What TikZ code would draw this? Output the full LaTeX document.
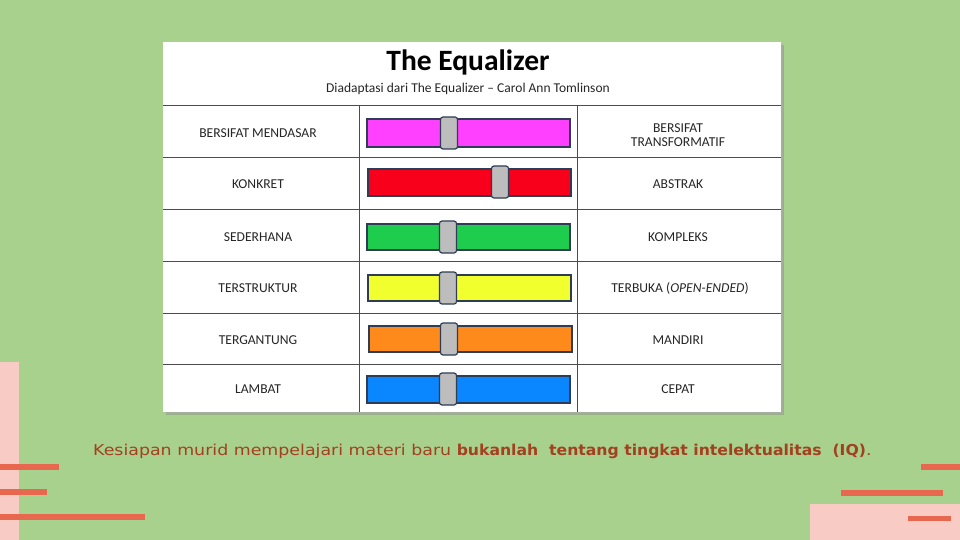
\documentclass[tikz,border=0pt]{standalone}
\usepackage{fontspec}
\usepackage{graphicx}
\setmainfont{Carlito}
\newfontfamily\capfont{DejaVu Sans}
\newfontfamily\capbold{DejaVu Sans Condensed}
\definecolor{bggreen}{HTML}{A9D18E}
\definecolor{pinkish}{HTML}{F8CBC4}
\definecolor{coral}{HTML}{E8674F}
\definecolor{captxt}{HTML}{A3401F}
\definecolor{rim}{HTML}{2E3D55}
\definecolor{knob}{HTML}{BDBDBD}
\definecolor{cMag}{HTML}{FF40FF}
\definecolor{cRed}{HTML}{F8001C}
\definecolor{cGrn}{HTML}{1ECC4E}
\definecolor{cYel}{HTML}{F2FF2E}
\definecolor{cOrg}{HTML}{FF8A1C}
\definecolor{cBlu}{HTML}{0A86FF}
\tikzset{
  lbl/.style={font=\fontsize{13.6}{14.5}\selectfont, align=center, text=black!85},
  bar/.style={draw=rim, line width=1.2pt},
  knobbox/.style={draw=rim, line width=1.2pt, fill=knob, rounded corners=2.5pt, minimum width=17pt, minimum height=32pt, inner sep=0pt},
  grid/.style={draw=black!70, line width=0.6pt},
  deco/.style={fill=coral, draw=none},
}
\begin{document}
\begin{tikzpicture}[x=1pt,y=-1pt]
\useasboundingbox (0,0) rectangle (960,540);
\fill[bggreen] (0,0) rectangle (960,540);
% decorations
\fill[pinkish] (0,362) rectangle (19,540);
\fill[deco] (0,464) rectangle (59,470);
\fill[deco] (0,489) rectangle (47,495);
\fill[deco] (0,514) rectangle (145,520);
\fill[pinkish] (810,504) rectangle (960,540);
\fill[deco] (921,464) rectangle (960,470);
\fill[deco] (841,490) rectangle (943,496);
\fill[deco] (908,516) rectangle (951,521);
% panel shadow
\fill[black!45, opacity=0.5] (166,45) rectangle (784,415);
\fill[black!30, opacity=0.4] (165,44) rectangle (783,414);
\node[draw=none, fill=white, minimum width=618pt, minimum height=370pt, inner sep=0pt, anchor=north west] (panel) at (163,42) {};
\node[font=\bfseries\fontsize{29.5}{31}\selectfont] (title) at (468,62) {The Equalizer};
\node[font=\fontsize{13.5}{15}\selectfont, text=black!85] (sub) at (468,89) {Diadaptasi dari The Equalizer -- Carol Ann Tomlinson};
% grid
\foreach \y in {105,157,209,261,313,364} \draw[grid] (163,\y) -- (781,\y);
\draw[grid] (359,105) -- (359,412);
\draw[grid] (577,105) -- (577,412);
% labels
\node[lbl] (l1) at (258,133) {BERSIFAT MENDASAR};
\node[lbl] (l2) at (258,184) {KONKRET};
\node[lbl] (l3) at (258,237) {SEDERHANA};
\node[lbl] (l4) at (258,288) {TERSTRUKTUR};
\node[lbl] (l5) at (258,340) {TERGANTUNG};
\node[lbl] (l6) at (258,389) {LAMBAT};
\node[lbl] (r1) at (678,135) {BERSIFAT\\TRANSFORMATIF};
\node[lbl] (r2) at (678,184) {ABSTRAK};
\node[lbl] (r3) at (678,237) {KOMPLEKS};
\node[lbl] (r4) at (680,288) {TERBUKA (\textit{OPEN-ENDED})};
\node[lbl] (r5) at (678,340) {MANDIRI};
\node[lbl] (r6) at (678,389) {CEPAT};
% sliders
\draw[bar, fill=cMag] (367,119) rectangle (570,147);
\node[knobbox] (k1) at (449,133) {};
\draw[bar, fill=cRed] (368,169) rectangle (571,196);
\node[knobbox] (k2) at (500,182) {};
\draw[bar, fill=cGrn] (367,224) rectangle (570,250);
\node[knobbox] (k3) at (448,237) {};
\draw[bar, fill=cYel] (368,275) rectangle (571,301);
\node[knobbox] (k4) at (448,288) {};
\draw[bar, fill=cOrg] (369,326) rectangle (572,352);
\node[knobbox] (k5) at (449,339) {};
\draw[bar, fill=cBlu] (367,376) rectangle (570,403);
\node[knobbox] (k6) at (448,389) {};
% caption
\node[anchor=west, inner sep=0pt, text=captxt, font=\capfont\fontsize{15}{17}\selectfont] (cap) at (93,451) {\scalebox{1.16}[1]{Kesiapan murid mempelajari materi baru {\capbold\bfseries bukanlah\ \ tentang tingkat intelektualitas\ \ (IQ)}.}};
\end{tikzpicture}
\end{document}
